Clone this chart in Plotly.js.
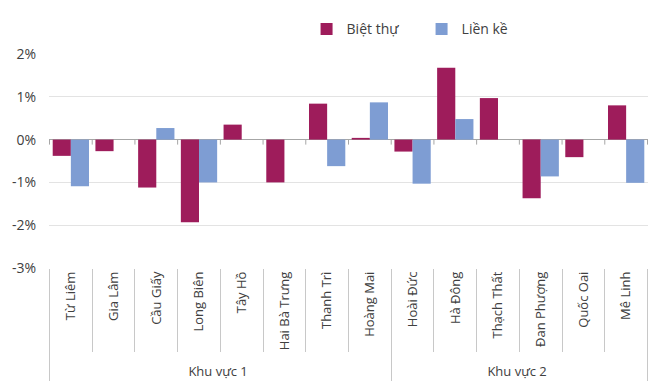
<!DOCTYPE html>
<html>
<head>
<meta charset="utf-8">
<script src="https://cdn.plot.ly/plotly-3.0.1.min.js"></script>
<style>html,body{margin:0;padding:0;background:#fff;}#chart{width:670px;height:388px;}</style>
</head>
<body>
<div id="chart"></div>
<script>
// Data
const groups = ["Khu vực 1","Khu vực 1","Khu vực 1","Khu vực 1","Khu vực 1","Khu vực 1","Khu vực 1","Khu vực 1",
                "Khu vực 2","Khu vực 2","Khu vực 2","Khu vực 2","Khu vực 2","Khu vực 2"];
const districts = ["Từ Liêm","Gia Lâm","Cầu Giấy","Long Biên","Tây Hồ","Hai Bà Trưng","Thanh Trì","Hoàng Mai",
                   "Hoài Đức","Hà Đông","Thạch Thất","Đan Phượng","Quốc Oai","Mê Linh"];
const bietThu = [-0.38,-0.27,-1.12,-1.93,0.35,-1.0,0.84,0.04,-0.28,1.68,0.97,-1.37,-0.41,0.80];
const lienKe  = [-1.09,0,0.27,-1.0,0,0,-0.62,0.87,-1.03,0.48,0,-0.86,0,-1.01];
const yTickVals = [-3,-2,-1,0,1,2];
const yTickText = ["-3%","-2%","-1%","0%","1%","2%"];

const FONT = "Open Sans, Noto Sans, sans-serif";
const textColor = "#404040";

const traces = [
  {type:"bar", name:"Biệt thự", x:[groups, districts], y:bietThu, marker:{color:"#9E1C5B"}},
  {type:"bar", name:"Liền kề", x:[groups, districts], y:lienKe, marker:{color:"#7E9DD3"}}
];

// small tick marks on the zero line at category boundaries
const shapes = [];
for (let i = 0; i <= districts.length; i++) {
  shapes.push({type:"line", xref:"x", yref:"y", x0:i-0.5, x1:i-0.5,
    ysizemode:"pixel", yanchor:0, y0:0, y1:-5, line:{color:"#a6a6a6", width:1}});
}

const layout = {
  width:670, height:388,
  margin:{l:49, r:22, t:54, b:120},
  paper_bgcolor:"#fff", plot_bgcolor:"#fff",
  font:{family:FONT, size:14, color:textColor},
  barmode:"group", bargap:0.15, bargroupgap:0,
  showlegend:true,
  legend:{orientation:"h", x:0.43, xanchor:"left", y:1.115, yanchor:"middle",
          entrywidth:70, entrywidthmode:"pixels", font:{size:14, color:textColor},
          itemwidth:30},
  xaxis:{type:"multicategory", tickangle:-90, tickson:"boundaries", ticks:"outside",
         ticklen:83, tickcolor:"#c8c8c8", showdividers:true, dividercolor:"#c8c8c8", dividerwidth:1,
         showline:false, showgrid:false, zeroline:false,
         tickfont:{size:13, color:textColor}},
  yaxis:{range:[-3,2], tickvals:yTickVals, ticktext:yTickText, showgrid:true, gridcolor:"#e3e3e3",
         zeroline:true, zerolinecolor:"#a6a6a6", zerolinewidth:1, ticks:"", showline:false,
         ticklabelstandoff:12, tickfont:{size:14, color:textColor}},
  shapes:shapes
};

Plotly.newPlot("chart", traces, layout, {displayModeBar:false, staticPlot:true});
</script>
</body>
</html>
